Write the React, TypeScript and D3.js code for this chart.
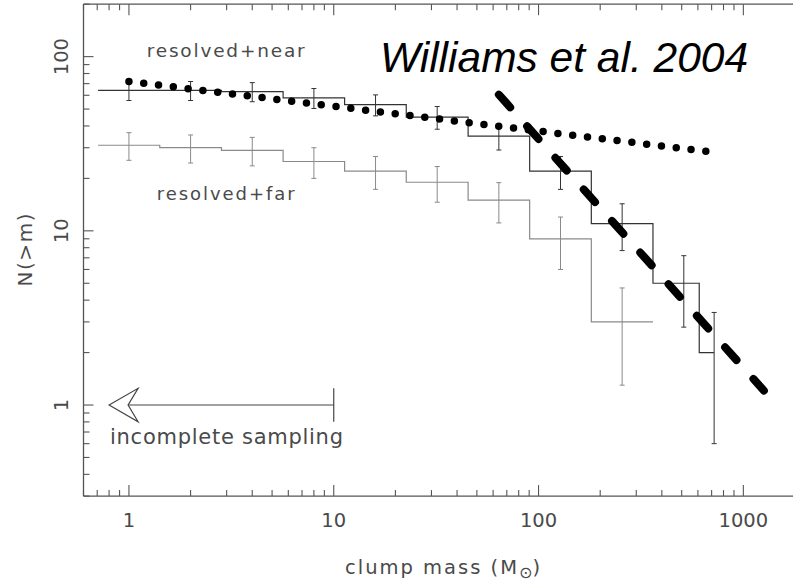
import React from "react";
import * as d3 from "d3";

// ---- data ----
const nearEdges = [0.707, 1.414, 2.83, 5.66, 11.3, 22.6, 45.3, 90.5, 181, 362, 609, 720];
const nearValues = [64, 64, 63, 58, 53, 45, 35, 22, 11, 5, 2];
const nearMass = [1, 2, 4, 8, 16, 32, 64, 128, 256, 512, 720];
const nearErr = [8.0, 8.0, 7.9, 7.6, 7.3, 6.7, 5.9, 4.7, 3.3, 2.2, 1.4];

const farEdges = [0.707, 1.414, 2.83, 5.66, 11.3, 22.6, 45.3, 90.5, 181, 362];
const farValues = [31, 30, 29, 25, 22, 19, 15, 9, 3];
const farMass = [1, 2, 4, 8, 16, 32, 64, 128, 256];
const farErr = [5.6, 5.5, 5.4, 5.0, 4.7, 4.4, 3.9, 3.0, 1.7];

const dottedFitMass = [1, 690];
const dottedFitN = [72, 28.4];
const dashedFitMass = [64, 1260];
const dashedFitN = [60.5, 1.21];

const arrowMass = [10, 0.8];
const arrowN = 1;

const xMajorTicks = [1, 10, 100, 1000];
const yMajorTicks = [1, 10, 100];
const xDomain = [0.6, 2000];
const yDomain = [0.3, 200];

// ---- layout ----
const W = 793;
const H = 584;
const LEFT = 83.5;
const RIGHT = 805;
const TOP = 4.2;
const BOTTOM = 496.1;

const FONT = "'DejaVu Sans', sans-serif";

function minorTicks(domain: number[]) {
  const out: number[] = [];
  for (let p = -2; p <= 4; p++) {
    for (let k = 2; k <= 9; k++) {
      const v = k * Math.pow(10, p);
      if (v >= domain[0] * 0.999 && v <= domain[1] * 1.001) out.push(v);
    }
  }
  return out;
}

export default function App() {
  const x = d3.scaleLog().domain(xDomain).range([LEFT, RIGHT]);
  const y = d3.scaleLog().domain(yDomain).range([BOTTOM, TOP]);

  const stepLine = d3
    .line<[number, number]>()
    .x((d) => x(d[0]))
    .y((d) => y(d[1]))
    .curve(d3.curveStepAfter);

  const histPts = (edges: number[], vals: number[]): [number, number][] => {
    const pts: [number, number][] = vals.map((v, i) => [edges[i], v]);
    pts.push([edges[edges.length - 1], vals[vals.length - 1]]);
    return pts;
  };

  const straight = d3
    .line<[number, number]>()
    .x((d) => x(d[0]))
    .y((d) => y(d[1]));

  const dotted: [number, number][] = dottedFitMass.map((m, i) => [m, dottedFitN[i]]);
  const dashed: [number, number][] = dashedFitMass.map((m, i) => [m, dashedFitN[i]]);

  const errBars = (mass: number[], vals: number[], errs: number[], color: string, key: string) =>
    mass.map((m, i) => {
      const cx = x(m);
      const y1 = y(vals[i] + errs[i]);
      const y2 = y(vals[i] - errs[i]);
      const c = 2.5;
      return (
        <g key={key + i} stroke={color} strokeWidth={1}>
          <line x1={cx} x2={cx} y1={y1} y2={y2} />
          <line x1={cx - c} x2={cx + c} y1={y1} y2={y1} />
          <line x1={cx - c} x2={cx + c} y1={y2} y2={y2} />
        </g>
      );
    });

  const xMinor = minorTicks(xDomain);
  const yMinor = minorTicks(yDomain);
  const axisColor = "#555";
  const textColor = "#4a4a4a";

  const ax0 = x(arrowMass[0]);
  const ax1 = x(arrowMass[1]);
  const ay = y(arrowN);

  return (
    <div>
      <style>{`body{margin:0;}`}</style>
      <svg width={W} height={H} style={{ display: "block", background: "#fff" }}>
        {/* frame */}
        <g stroke={axisColor} strokeWidth={1.3} fill="none">
          <line x1={LEFT} x2={RIGHT} y1={TOP} y2={TOP} />
          <line x1={LEFT} x2={RIGHT} y1={BOTTOM} y2={BOTTOM} />
          <line x1={LEFT} x2={LEFT} y1={TOP} y2={BOTTOM} />
        </g>
        {/* ticks */}
        <g stroke={axisColor} strokeWidth={1.1}>
          {xMajorTicks.map((t) => (
            <g key={"xM" + t}>
              <line x1={x(t)} x2={x(t)} y1={BOTTOM} y2={BOTTOM - 11} />
              <line x1={x(t)} x2={x(t)} y1={TOP} y2={TOP + 11} />
            </g>
          ))}
          {xMinor.map((t) => (
            <g key={"xm" + t}>
              <line x1={x(t)} x2={x(t)} y1={BOTTOM} y2={BOTTOM - 6} />
              <line x1={x(t)} x2={x(t)} y1={TOP} y2={TOP + 6} />
            </g>
          ))}
          {yMajorTicks.map((t) => (
            <line key={"yM" + t} x1={LEFT} x2={LEFT + 10} y1={y(t)} y2={y(t)} />
          ))}
          {yMinor.map((t) => (
            <line key={"ym" + t} x1={LEFT} x2={LEFT + 6} y1={y(t)} y2={y(t)} />
          ))}
        </g>
        {/* tick labels */}
        <g fontFamily={FONT} fontSize={19.5} fill={textColor}>
          {xMajorTicks.map((t) => (
            <text key={"xl" + t} x={x(t)} y={526.5} textAnchor="middle">
              {String(t)}
            </text>
          ))}
          {yMajorTicks.map((t) => (
            <text
              key={"yl" + t}
              transform={`translate(68,${y(t)}) rotate(-90)`}
              textAnchor="middle"
            >
              {String(t)}
            </text>
          ))}
        </g>
        {/* axis titles */}
        <text
          fontFamily={FONT}
          fontSize={20}
          fill={textColor}
          transform={`translate(31.5,250) rotate(-90)`}
          textAnchor="middle"
          textLength={73}
          lengthAdjust="spacing"
        >
          N(&gt;m)
        </text>
        <text fontFamily={FONT} fontSize={19.5} fill={textColor} x={345} y={574} letterSpacing={2}>
          clump mass (M
          <tspan fontSize={16} dy={4} letterSpacing={0}>
            ⊙
          </tspan>
          <tspan dy={-4}>)</tspan>
        </text>

        {/* histograms */}
        <path d={stepLine(histPts(farEdges, farValues)) || ""} fill="none" stroke="#8a8a8a" strokeWidth={1.2} />
        {errBars(farMass, farValues, farErr, "#8a8a8a", "f")}
        <path d={stepLine(histPts(nearEdges, nearValues)) || ""} fill="none" stroke="#333" strokeWidth={1.2} />
        {errBars(nearMass, nearValues, nearErr, "#333", "n")}

        {/* fits */}
        <path
          d={straight(dotted) || ""}
          fill="none"
          stroke="#000"
          strokeWidth={7.5}
          strokeLinecap="round"
          strokeDasharray="0 14.9"
        />
        <path
          d={straight(dashed) || ""}
          fill="none"
          stroke="#000"
          strokeWidth={8}
          strokeLinecap="round"
          strokeDasharray="17 25.4"
        />

        {/* incomplete sampling arrow */}
        <g stroke="#444" strokeWidth={1.2} fill="none">
          <line x1={ax0} x2={ax1 + 19} y1={ay} y2={ay} />
          <line x1={ax0} x2={ax0} y1={ay - 16.7} y2={ay + 16.7} />
          <path
            d={`M${ax1},${ay} L${ax1 + 29},${ay - 16.7} L${ax1 + 19},${ay} L${ax1 + 29},${ay + 16.7} Z`}
            strokeLinejoin="miter"
          />
        </g>

        {/* annotations */}
        <g fontFamily={FONT} fill={textColor}>
          <text x={146.7} y={56.7} fontSize={18.5} textLength={158} lengthAdjust="spacing">
            resolved+near
          </text>
          <text x={156.7} y={200} fontSize={18} textLength={138} lengthAdjust="spacing">
            resolved+far
          </text>
          <text x={110} y={444.3} fontSize={21} textLength={233} lengthAdjust="spacing">
            incomplete sampling
          </text>
        </g>
        <text
          x={380}
          y={71.7}
          fontFamily="'Liberation Sans', Arial, sans-serif"
          fontStyle="italic"
          fontSize={42.5}
          fill="#000"
        >
          Williams et al. 2004
        </text>
      </svg>
    </div>
  );
}
